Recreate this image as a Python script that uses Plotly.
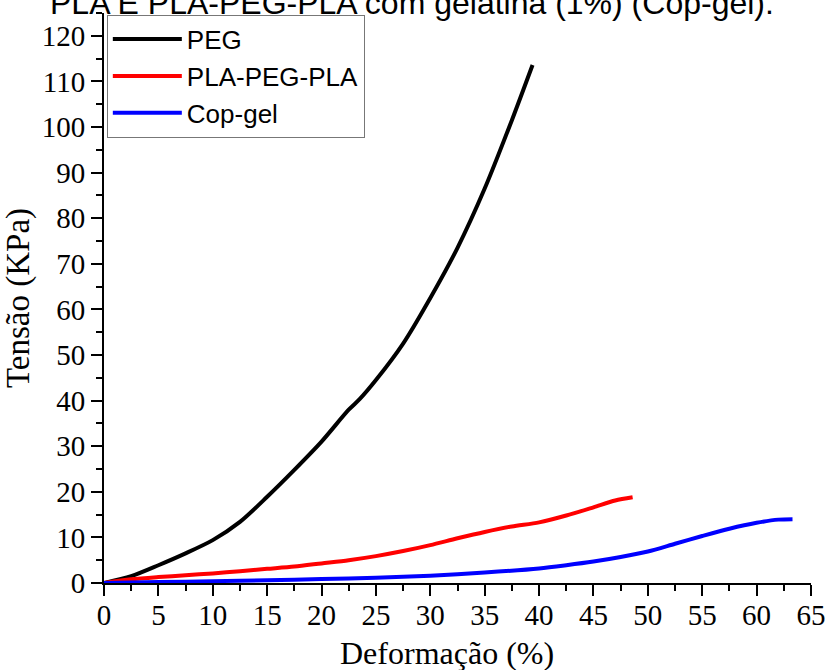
import plotly.graph_objects as go

# Data
peg_x = [0, 2.5, 5, 7.5, 10, 12.5, 15, 17.5, 20, 22.5, 23.5, 25, 27.5, 30, 32.5, 35, 37.5, 39.4]
peg_y = [0, 1.5, 3.9, 6.5, 9.4, 13.4, 18.9, 24.8, 31, 38.0, 40.3, 44.5, 52.5, 62.5, 73.5, 86.5, 101.5, 113.6]

pla_x = [0, 2.5, 5, 7.5, 10, 12.5, 15, 17.5, 20, 22.5, 25, 27.5, 30, 32.5, 35, 37.5, 40, 42.5, 45, 47, 48.6]
pla_y = [0, 0.8, 1.3, 1.7, 2.1, 2.6, 3.1, 3.6, 4.3, 5.0, 5.9, 7.0, 8.3, 9.8, 11.2, 12.4, 13.3, 14.8, 16.6, 18.1, 18.8]

cop_x = [0, 5, 10, 15, 20, 25, 30, 35, 40, 42.5, 45, 47.5, 50, 52.5, 55, 57.5, 60, 62, 63.3]
cop_y = [0, 0.2, 0.4, 0.6, 0.85, 1.15, 1.6, 2.3, 3.2, 3.9, 4.7, 5.7, 6.9, 8.6, 10.3, 11.9, 13.2, 13.9, 14.0]

series_names = ["PEG", "PLA-PEG-PLA", "Cop-gel"]
series_colors = ["black", "red", "blue"]

title_text = "PLA E PLA-PEG-PLA com gelatina (1%) (Cop-gel)."
x_title = "Deformação (%)"
y_title = "Tensão (KPa)"

fig = go.Figure()
for xs, ys, name, col in zip([peg_x, pla_x, cop_x], [peg_y, pla_y, cop_y], series_names, series_colors):
    fig.add_trace(go.Scatter(x=xs, y=ys, mode="lines", name=name,
                             line=dict(color=col, width=4, shape="spline", smoothing=0.8),
                             cliponaxis=False))

serif = "Liberation Serif"
sans = "Liberation Sans"

L, R, T, B = 104.3, 16.3, 13, 87.3
PH = 670 - T - B
fig.update_layout(
    width=827, height=670,
    margin=dict(l=L, r=R, t=T, b=B),
    plot_bgcolor="white", paper_bgcolor="white",
    showlegend=True,
    legend=dict(x=0.004, y=0.997, xanchor="left", yanchor="top",
                bordercolor="#777777", borderwidth=1, bgcolor="white",
                font=dict(family=sans, size=26, color="black"),
                itemwidth=69),
    xaxis=dict(range=[0, 65], dtick=5, tick0=0, showgrid=False, zeroline=False,
               automargin=False,
               showline=True, linecolor="black", linewidth=2,
               ticks="outside", ticklen=11, tickwidth=2, tickcolor="black",
               ticklabelstandoff=-6,
               minor=dict(dtick=2.5, ticks="outside", ticklen=6, tickwidth=2, tickcolor="black"),
               tickfont=dict(family=serif, size=29, color="black")),
    yaxis=dict(range=[0, 125], dtick=10, tick0=0, showgrid=False, zeroline=False,
               automargin=False,
               showline=True, linecolor="black", linewidth=2,
               ticks="outside", ticklen=11, tickwidth=2, tickcolor="black",
               minor=dict(dtick=5, ticks="outside", ticklen=6, tickwidth=2, tickcolor="black"),
               tickfont=dict(family=serif, size=29, color="black"),
               title=dict(text=y_title, font=dict(family=serif, size=33, color="black"), standoff=7)),
    annotations=[
        dict(text=title_text, xref="paper", yref="paper",
             x=0.435, y=(582.7 - 23) / PH, xanchor="center", yanchor="bottom",
             showarrow=False, font=dict(family=sans, size=32, color="black")),
        dict(text=x_title, xref="paper", yref="paper",
             x=(447 - L) / (827 - L - R), y=(582.7 - 653) / PH, xanchor="center", yanchor="middle",
             showarrow=False, font=dict(family=serif, size=32, color="black")),
    ],
)

fig.write_html("out.html", config={"displayModeBar": False},
               post_script="document.body.style.margin='0';document.body.style.overflow='hidden';")
